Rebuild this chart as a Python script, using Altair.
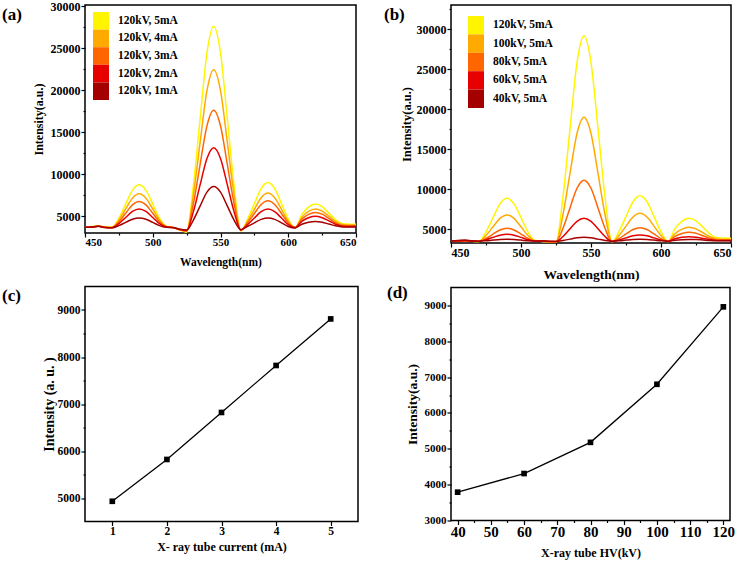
import altair as alt
import pandas as pd

FONT = "Liberation Serif"

# ---------------- data ----------------
wavelength = list(range(450, 651, 5))

a_names = ["120kV, 5mA", "120kV, 4mA", "120kV, 3mA", "120kV, 2mA", "120kV, 1mA"]
a_5mA = [3720, 3760, 3850, 3700, 3700, 4770, 6440, 8070, 8730, 8070, 6440, 4770, 3800, 3650,
         3350, 3100, 8640, 16650, 24420, 27580, 24420, 16650, 8640, 3250,
         4670, 6500, 8280, 9000, 8280, 6500, 4670, 3600,
         5180, 6080, 6440, 6150, 5360, 4580, 4100, 4050, 4050]
a_4mA = [3700, 3740, 3830, 3680, 3650, 4530, 5860, 7140, 7660, 7140, 5860, 4530, 3780, 3650,
         3380, 3200, 7550, 13840, 19940, 22420, 19940, 13840, 7550, 3300,
         4400, 5820, 7190, 7750, 7190, 5820, 4400, 3620,
         4860, 5560, 5850, 5600, 5000, 4370, 4000, 3950, 3950]
a_3mA = [3690, 3730, 3810, 3670, 3640, 4320, 5350, 6350, 6750, 6350, 5350, 4320, 3760, 3650,
         3400, 3250, 6510, 11200, 15750, 17600, 15750, 11200, 6510, 3330,
         4210, 5320, 6390, 6830, 6390, 5320, 4210, 3640,
         4640, 5220, 5450, 5240, 4730, 4200, 3880, 3850, 3850]
a_2mA = [3680, 3720, 3800, 3660, 3630, 4120, 4850, 5560, 5850, 5560, 4850, 4120, 3720, 3640,
         3420, 3300, 5540, 8760, 11870, 13140, 11870, 8760, 5540, 3360,
         4000, 4780, 5540, 5850, 5540, 4780, 4000, 3650,
         4380, 4810, 4980, 4820, 4440, 4040, 3800, 3780, 3780]
a_1mA = [3670, 3710, 3790, 3650, 3620, 3880, 4260, 4640, 4790, 4640, 4260, 3880, 3680, 3640,
         3440, 3350, 4540, 6230, 7870, 8530, 7870, 6230, 4540, 3400,
         3780, 4210, 4620, 4790, 4620, 4210, 3780, 3600,
         4040, 4280, 4380, 4290, 4070, 3850, 3720, 3700, 3700]

b_names = ["120kV, 5mA", "100kV, 5mA", "80kV, 5mA", "60kV, 5mA", "40kV, 5mA"]
b_120kV = [3500, 3480, 3550, 3480, 3450, 4640, 6420, 8140, 8840, 8140, 6420, 4640, 3550, 3450,
           3400, 3350, 9030, 17550, 25810, 29160, 25810, 17550, 9030, 3400,
           4670, 6570, 8410, 9160, 8410, 6570, 4670, 3450,
           5040, 5960, 6340, 6020, 5220, 4390, 3900, 3850, 3840]
b_100kV = [3500, 3480, 3540, 3480, 3450, 4180, 5270, 6320, 6750, 6320, 5270, 4180, 3520, 3450,
           3420, 3380, 6810, 11950, 16940, 18960, 16940, 11950, 6810, 3400,
           4180, 5360, 6500, 6960, 6500, 5360, 4180, 3430,
           4410, 4980, 5210, 5010, 4530, 4030, 3740, 3700, 3700]
b_80kV = [3500, 3480, 3530, 3480, 3460, 3820, 4360, 4880, 5090, 4880, 4360, 3820, 3500, 3460,
          3430, 3400, 5090, 7630, 10090, 11090, 10090, 7630, 5090, 3420,
          3800, 4380, 4930, 5160, 4930, 4380, 3800, 3440,
          4070, 4440, 4590, 4460, 4150, 3830, 3640, 3620, 3620]
b_60kV = [3500, 3490, 3540, 3480, 3470, 3660, 3950, 4230, 4340, 4230, 3950, 3660, 3490, 3470,
          3440, 3420, 4060, 5030, 5960, 6340, 5960, 5030, 4060, 3440,
          3620, 3890, 4150, 4250, 4150, 3890, 3620, 3450,
          3780, 3960, 4040, 3980, 3820, 3670, 3570, 3560, 3560]
b_40kV = [3500, 3560, 3620, 3520, 3480, 3530, 3610, 3680, 3710, 3680, 3610, 3530, 3500, 3520,
          3480, 3460, 3570, 3735, 3895, 3960, 3895, 3735, 3570, 3480,
          3530, 3610, 3680, 3710, 3680, 3610, 3530, 3480,
          3600, 3670, 3700, 3680, 3620, 3560, 3530, 3520, 3520]

spectrum_colors = ["#FFF500", "#FFAA00", "#FF6600", "#E60000", "#A50000"]

current_mA = [1, 2, 3, 4, 5]
intensity_current = [4930, 5820, 6820, 7820, 8810]

tube_kV = [40, 60, 80, 100, 120]
intensity_kV = [3790, 4310, 5180, 6800, 8960]


# ---------------- helpers ----------------
def long_df(names, series):
    rows = []
    for k, (name, vals) in enumerate(zip(names, series)):
        for w, v in zip(wavelength, vals):
            rows.append({"wl": w, "I": v, "s": name, "k": -k})
    return pd.DataFrame(rows)


def axis(values, major, title, label_size, title_size, label_pad, title_pad, fmt="d"):
    return alt.Axis(
        values=values,
        title=title,
        format=fmt,
        labelExpr=f"datum.value % {major} === 0 ? datum.label : ''",
        tickSize={"condition": {"test": f"datum.value % {major} === 0", "value": 4}, "value": 2},
        tickColor="black",
        tickWidth=1.2,
        domain=False,
        grid=False,
        labelFont=FONT,
        labelFontWeight="bold",
        labelFontSize=label_size,
        labelColor="black",
        labelPadding=label_pad,
        titleFont=FONT,
        titleFontWeight="bold",
        titleFontSize=title_size,
        titleColor="black",
        titlePadding=title_pad,
        labelOverlap=False,
    )


def tag(text, x, y):
    return alt.Chart(pd.DataFrame({"t": [text]})).mark_text(
        align="left", baseline="middle", font=FONT, fontWeight="bold", fontSize=17, color="black"
    ).encode(text="t:N", x=alt.value(x), y=alt.value(y))


def spacer(y):
    # white hairline in the blank margin that only extends the panel's bounds upward
    return alt.Chart(pd.DataFrame({"t": [0]})).mark_rule(color="white", strokeWidth=1).encode(
        x=alt.value(20), y=alt.value(y), y2=alt.value(y + 1))


def spectra_panel(names, series, label, lx, ly, w, h, ydom, yvals, xlab, xtitle, ylab, ytitle,
                  xlp, xtp, ylp, ytp, leg_x, leg_y, leg_h, extra=None):
    df = long_df(names, series)
    cscale = alt.Scale(domain=names, range=spectrum_colors)
    x = alt.X("wl:Q", scale=alt.Scale(domain=[450, 650], nice=False, zero=False),
              axis=axis(list(range(450, 651, 25)), 50, "Wavelength(nm)", xlab, xtitle, xlp, xtp))
    y = alt.Y("I:Q", scale=alt.Scale(domain=ydom, nice=False, zero=False),
              axis=axis(yvals, 5000, "Intensity(a.u.)", ylab, ytitle, ylp, ytp))
    lines = alt.Chart(df).mark_line(strokeWidth=1.5, interpolate="monotone").encode(
        x=x, y=y,
        color=alt.Color("s:N", scale=cscale, legend=None),
        order=alt.Order("k:Q"),
    )
    # colour-bar style key: one swatch per series, stacked top to bottom
    key_df = pd.DataFrame({"s": names})
    key_y = alt.Y("s:N", axis=None, sort=names,
                  scale=alt.Scale(domain=names, range=[leg_y, leg_y + leg_h * len(names)],
                                  paddingInner=0, paddingOuter=0))
    swatches = alt.Chart(key_df).mark_rect(strokeWidth=0).encode(
        y=key_y, x=alt.value(leg_x), x2=alt.value(leg_x + 16),
        color=alt.Color("s:N", scale=cscale, legend=None))
    key_labels = alt.Chart(key_df).mark_text(
        align="left", baseline="middle", font=FONT, fontWeight="bold", fontSize=11.5,
        color="black").encode(y=key_y, x=alt.value(leg_x + 25), text="s:N")
    layers = [lines, swatches, key_labels, tag(label, lx, ly)]
    if extra is not None:
        layers.append(extra)
    return alt.layer(*layers).resolve_scale(y="independent").properties(width=w, height=h)


def trend_panel(xs, ys, label, lx, ly, w, h, xdom, xvals, xmajor, xtitle, xlab, xtsize, xlp, xtp,
                ydom, yvals, ytitle, ylab, ytsize, ylp, ytp):
    df = pd.DataFrame({"x": xs, "y": ys})
    x = alt.X("x:Q", scale=alt.Scale(domain=xdom, nice=False, zero=False),
              axis=axis(xvals, xmajor, xtitle, xlab, xtsize, xlp, xtp))
    y = alt.Y("y:Q", scale=alt.Scale(domain=ydom, nice=False, zero=False),
              axis=axis(yvals, 1000, ytitle, ylab, ytsize, ylp, ytp))
    base = alt.Chart(df).encode(x=x, y=y)
    line = base.mark_line(color="black", strokeWidth=1.3)
    pts = base.mark_square(color="black", size=32, opacity=1)
    return alt.layer(line, pts, tag(label, lx, ly)).properties(width=w, height=h)


# ---------------- panels ----------------
panel_a = spectra_panel(
    a_names, [a_5mA, a_4mA, a_3mA, a_2mA, a_1mA], "(a)", -83, 10, 271, 228,
    [3000, 30120], list(range(5000, 30001, 2500)), 11, 11.5, 12, 12,
    -1, 9, 1, 5, 8, 7, 17.6)

panel_b = spectra_panel(
    b_names, [b_120kV, b_100kV, b_80kV, b_60kV, b_40kV], "(b)", -67, 10, 280, 238,
    [3250, 33000], list(range(5000, 32501, 2500)), 12, 13.5, 12, 12.5,
    0, 9, 1, 3, 17, 11, 18.4, extra=spacer(-9))

panel_c = trend_panel(
    current_mA, intensity_current, "(c)", -83, 9, 273, 235,
    [0.5, 5.5], [1, 1.5, 2, 2.5, 3, 3.5, 4, 4.5, 5], 1, "X- ray tube current (mA)", 11.5, 12, 0, 4,
    [4500, 9500], list(range(5000, 9001, 500)), "Intensity (a. u. )", 11.5, 14, 1, 1)

panel_d = trend_panel(
    tube_kV, intensity_kV, "(d)", -64, 5, 279, 233,
    [38, 122], list(range(40, 121, 5)), 10, "X-ray tube HV(kV)", 15, 12, 0, 8,
    [3000, 9500], list(range(3000, 9001, 500)), "Intensity(a.u.)", 11, 13.5, 1, 5)

col1 = alt.vconcat(panel_a, panel_c, spacing=16.5).resolve_scale(color="independent")
col2 = alt.vconcat(panel_b, panel_d, spacing=0.5).resolve_scale(color="independent")

chart = alt.hconcat(col1, col2, spacing=23).resolve_scale(color="independent").properties(
    padding={"left": 1, "top": -6, "right": 0, "bottom": 0},
    background="white",
).configure_view(stroke="black", strokeWidth=1.5)

chart.save("out.html", embed_options={"renderer": "svg", "actions": False})
